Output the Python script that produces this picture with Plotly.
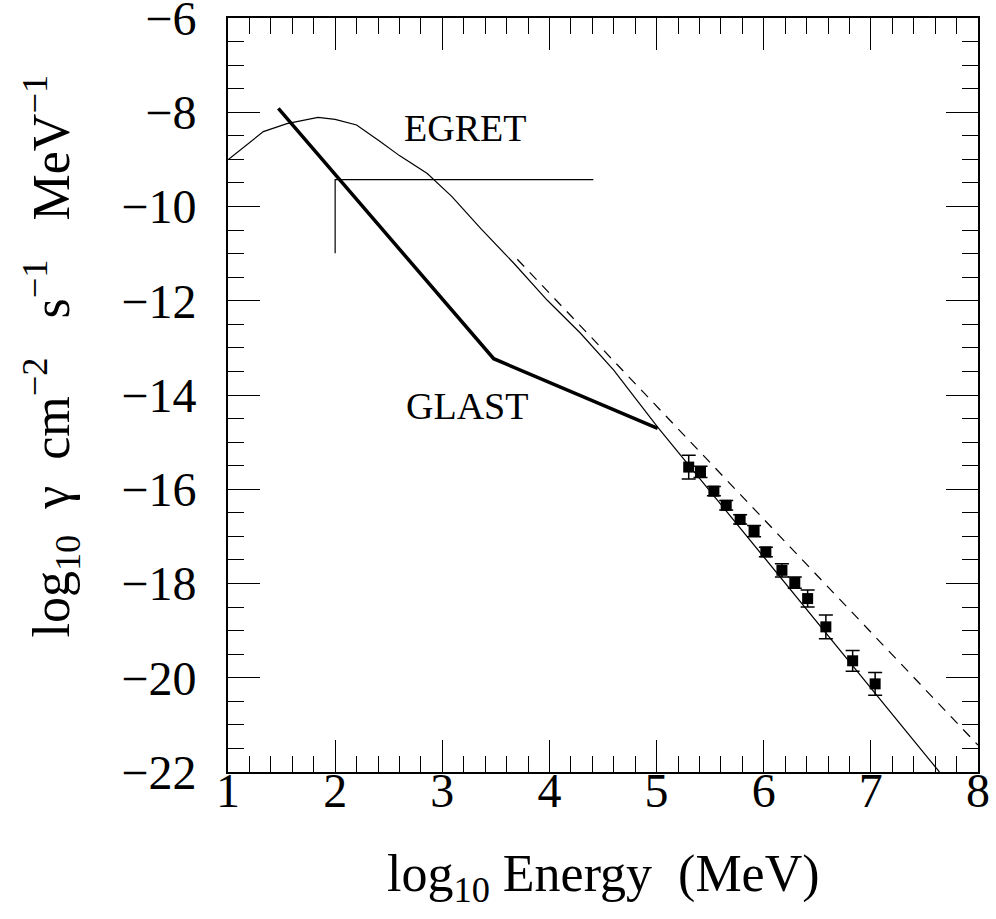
import plotly.graph_objects as go

# ---- data ----
egret_x = [1.0, 1.17, 1.33, 1.55, 1.84, 2.0, 2.2, 2.42, 2.6, 2.86, 3.09, 3.36, 3.67, 3.98, 4.29, 4.60, 5.01, 7.64]
egret_y = [-9.01, -8.70, -8.41, -8.24, -8.11, -8.15, -8.27, -8.62, -8.92, -9.30, -9.79, -10.47, -11.21, -11.99, -12.69, -13.47, -14.68, -22.0]

dash_x = [3.70, 8.0]
dash_y = [-11.12, -21.43]

glast_x = [1.47, 3.48, 5.01]
glast_y = [-7.92, -13.23, -14.71]

sens_x = [2.0, 2.0, 4.41]
sens_y = [-10.99, -9.43, -9.43]

pts_x = [5.30, 5.41, 5.535, 5.65, 5.78, 5.91, 6.02, 6.17, 6.29, 6.41, 6.58, 6.83, 7.04]
pts_y = [-15.53, -15.63, -16.04, -16.34, -16.64, -16.89, -17.33, -17.72, -17.98, -18.32, -18.92, -19.64, -20.13]
pts_err = [0.25, 0.12, 0.1, 0.1, 0.1, 0.12, 0.1, 0.14, 0.12, 0.18, 0.25, 0.22, 0.24]

x_ticks = [1, 2, 3, 4, 5, 6, 7, 8]
y_ticks = [-6, -8, -10, -12, -14, -16, -18, -20, -22]

FONT = "Liberation Serif"
NB = "\u00a0"

fig = go.Figure()
fig.add_trace(go.Scatter(x=egret_x, y=egret_y, mode="lines",
                         line=dict(color="black", width=1.2), showlegend=False))
fig.add_trace(go.Scatter(x=dash_x, y=dash_y, mode="lines",
                         line=dict(color="black", width=1.2, dash="10px,8px"), showlegend=False))
fig.add_trace(go.Scatter(x=glast_x, y=glast_y, mode="lines",
                         line=dict(color="black", width=3.5), showlegend=False))
fig.add_trace(go.Scatter(x=sens_x, y=sens_y, mode="lines",
                         line=dict(color="black", width=1.2), showlegend=False))
fig.add_trace(go.Scatter(x=pts_x, y=pts_y, mode="markers",
                         marker=dict(symbol="square", size=11, color="black"),
                         error_y=dict(type="data", array=pts_err, color="black",
                                      thickness=1.5, width=7),
                         showlegend=False))

fig.add_annotation(x=3.21, y=-8.34, text="EGRET", showarrow=False,
                   font=dict(family=FONT, size=38, color="black"))
fig.add_annotation(x=3.23, y=-14.24, text="GLAST", showarrow=False,
                   font=dict(family=FONT, size=38, color="black"))

fig.add_annotation(x=0.5, y=-0.14, xref="paper", yref="paper",
                   xanchor="center", yanchor="middle",
                   text=f"log<sub>10</sub>{NB}Energy{NB}{NB}(MeV)", showarrow=False,
                   font=dict(family=FONT, size=52, color="black"))
fig.add_annotation(x=-0.235, y=0.552, xref="paper", yref="paper", textangle=-90,
                   xanchor="center", yanchor="middle",
                   text=f"log<sub>10</sub>{NB}{NB}γ{NB}{NB}cm<sup>−2</sup>{NB}{NB}{NB}s<sup>−1</sup>{NB}{NB}{NB}MeV<sup>−1</sup>",
                   showarrow=False,
                   font=dict(family=FONT, size=52, color="black"))

axis_common = dict(
    showgrid=False, zeroline=False, showline=True, linecolor="black", linewidth=2,
    mirror="allticks", ticks="inside", ticklen=32, tickwidth=1.3, tickcolor="black",
    tickfont=dict(family=FONT, size=48, color="black"), ticklabeloverflow="allow",
)

fig.update_xaxes(range=[1, 8], tickvals=x_ticks, ticklabelstandoff=-25,
                 minor=dict(dtick=0.2, tick0=1, ticks="inside", ticklen=16,
                            tickwidth=1.3, tickcolor="black"),
                 **axis_common)
fig.update_yaxes(range=[-22, -6], tickvals=y_ticks, ticklabelstandoff=20,
                 minor=dict(dtick=0.5, tick0=-22, ticks="inside", ticklen=16,
                            tickwidth=1.3, tickcolor="black"),
                 **axis_common)

fig.update_layout(
    width=996, height=919,
    margin=dict(l=228, r=18, t=18, b=147, autoexpand=False),
    paper_bgcolor="white", plot_bgcolor="white",
    showlegend=False,
)

fig.write_html("out.html")
